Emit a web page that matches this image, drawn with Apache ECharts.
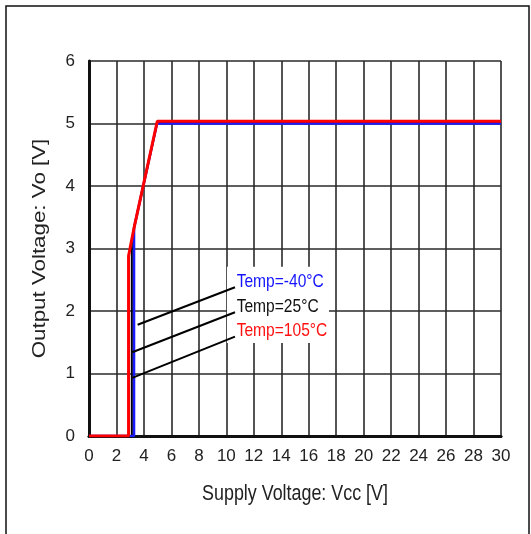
<!DOCTYPE html>
<html>
<head>
<meta charset="utf-8">
<script src="https://cdn.jsdelivr.net/npm/echarts@6/dist/echarts.min.js"></script>
<style>
  html, body { margin: 0; padding: 0; background: #fff; }
  #chart { width: 531px; height: 534px; }
</style>
</head>
<body>
<div id="chart"></div>
<script>
// Output voltage vs supply voltage at three temperatures
const vcc105 = [0, 2.88, 2.88, 3.3, 4.97, 30];
const vo105  = [0, 0, 2.88, 3.35, 5.035, 5.035];
const vcc25  = [0, 3.12, 3.12, 3.3, 4.97, 30];
const vo25   = [0, 0, 3.15, 3.35, 5.02, 5.02];
const vccM40 = [0, 3.28, 3.28, 4.95, 30];
const voM40  = [0, 0, 3.33, 5.0, 5.0];

// Legend labels with their leader lines (curve -> label)
const labelNames = ['Temp=-40°C', 'Temp=25°C', 'Temp=105°C'];
const labelColors = ['#1414ff', '#111111', '#ff1010'];
const labelX = [10.75, 10.75, 10.75];
const labelY = [2.47, 2.07, 1.68];
const leaderFromX = [3.54, 3.15, 3.15];
const leaderFromY = [1.78, 1.34, 0.93];
const leaderToX = [10.63, 10.63, 10.63];
const leaderToY = [2.38, 1.98, 1.59];

const xTicks = [0, 2, 4, 6, 8, 10, 12, 14, 16, 18, 20, 22, 24, 26, 28, 30];
const yTicks = [0, 1, 2, 3, 4, 5, 6];

const xName = 'Supply Voltage: Vcc [V]';
const yName = 'Output Voltage: Vo [V]';

const FONT = "'Liberation Sans', Arial, sans-serif";
const NARROW = 0.82; // condensed look for horizontal captions

function pairs(xs, ys) { return xs.map((x, i) => [x, ys[i]]); }

const curve = (name, xs, ys, color, width, z) => ({
  name, type: 'line', data: pairs(xs, ys), showSymbol: false, z,
  lineStyle: { color, width }, silent: true
});

const leaders = leaderFromX.map((x, i) => ({
  type: 'line', showSymbol: false, silent: true, z: 4,
  data: [[x, leaderFromY[i]], [leaderToX[i], leaderToY[i]]],
  lineStyle: { color: '#000', width: 2 }
}));

const chart = echarts.init(document.getElementById('chart'), null, { renderer: 'canvas' });
chart.setOption({
  animation: false,
  backgroundColor: '#fff',
  grid: { left: 89, right: 30, top: 61, bottom: 98 },
  xAxis: [{
    type: 'value', min: 0, max: 30, interval: 2,
    axisLine: { show: true, lineStyle: { color: '#111', width: 3 } },
    axisTick: { show: false },
    axisLabel: { margin: 12, fontFamily: FONT, fontSize: 17, color: '#222',
      customValues: xTicks, formatter: v => String(v) },
    splitLine: { show: true, showMinLine: false, lineStyle: { color: '#2a2a2a', width: 1.6 } }
  }, {
    type: 'value', min: 0, max: 30, position: 'top',
    axisLine: { show: true, lineStyle: { color: '#111', width: 2.5 } },
    axisTick: { show: false }, axisLabel: { show: false }, splitLine: { show: false }
  }],
  yAxis: [{
    type: 'value', min: 0, max: 6, interval: 1,
    axisLine: { show: true, lineStyle: { color: '#7a7a7a', width: 2 } },
    axisTick: { show: false },
    axisLabel: { margin: 14, fontFamily: FONT, fontSize: 17, color: '#222',
      customValues: yTicks, formatter: v => String(v) },
    splitLine: { show: true, showMinLine: false, lineStyle: { color: '#2a2a2a', width: 1.6 } }
  }, {
    type: 'value', min: 0, max: 6, position: 'right',
    axisLine: { show: true, lineStyle: { color: '#111', width: 3 } },
    axisTick: { show: false }, axisLabel: { show: false }, splitLine: { show: false }
  }],
  series: [
    curve('Temp=25°C', vcc25, vo25, '#000000', 2, 2),
    curve('Temp=-40°C', vccM40, voM40, '#1a1aff', 2.5, 3),
    curve('Temp=105°C', vcc105, vo105, '#ff0000', 3, 5),
    ...leaders
  ]
});

// Captions placed from the axis scales
const toPx = p => chart.convertToPixel({ gridIndex: 0 }, p);
const origin = toPx([0, 0]);
const corner = toPx([30, 6]);
const labelPx = labelNames.map((n, i) => toPx([labelX[i], labelY[i]]));
const boxLeft = toPx([leaderToX[0], 0])[0] - 8;

const graphics = [
  // outer frame
  {
    type: 'rect', silent: true, z: 100,
    shape: { x: 6, y: 6, width: 523, height: 560 },
    style: { fill: 'none', stroke: '#111', lineWidth: 1.5 }
  },
  // white panel behind the temperature captions
  {
    type: 'rect', silent: true, z: 1,
    shape: { x: boxLeft, y: labelPx[0][1] - 15, width: 102, height: labelPx[2][1] - labelPx[0][1] + 27 },
    style: { fill: '#fff' }
  },
  // x axis caption
  {
    type: 'text', silent: true, z: 10,
    x: (origin[0] + corner[0]) / 2, y: origin[1] + 58, scaleX: NARROW, originX: 0,
    style: { text: xName, fill: '#222', font: '21.8px ' + FONT, align: 'center', verticalAlign: 'middle' }
  },
  // y axis caption
  {
    type: 'text', silent: true, z: 10,
    x: 40, y: (origin[1] + corner[1]) / 2, rotation: Math.PI / 2, scaleX: 1.24,
    style: { text: yName, fill: '#222', font: '18px ' + FONT, align: 'center', verticalAlign: 'middle' }
  }
];
labelNames.forEach((n, i) => {
  graphics.push({
    type: 'text', silent: true, z: 10,
    x: labelPx[i][0], y: labelPx[i][1], scaleX: NARROW,
    style: { text: n, fill: labelColors[i], font: '19px ' + FONT, align: 'left', verticalAlign: 'middle' }
  });
});
chart.setOption({ graphic: graphics });
</script>
</body>
</html>
